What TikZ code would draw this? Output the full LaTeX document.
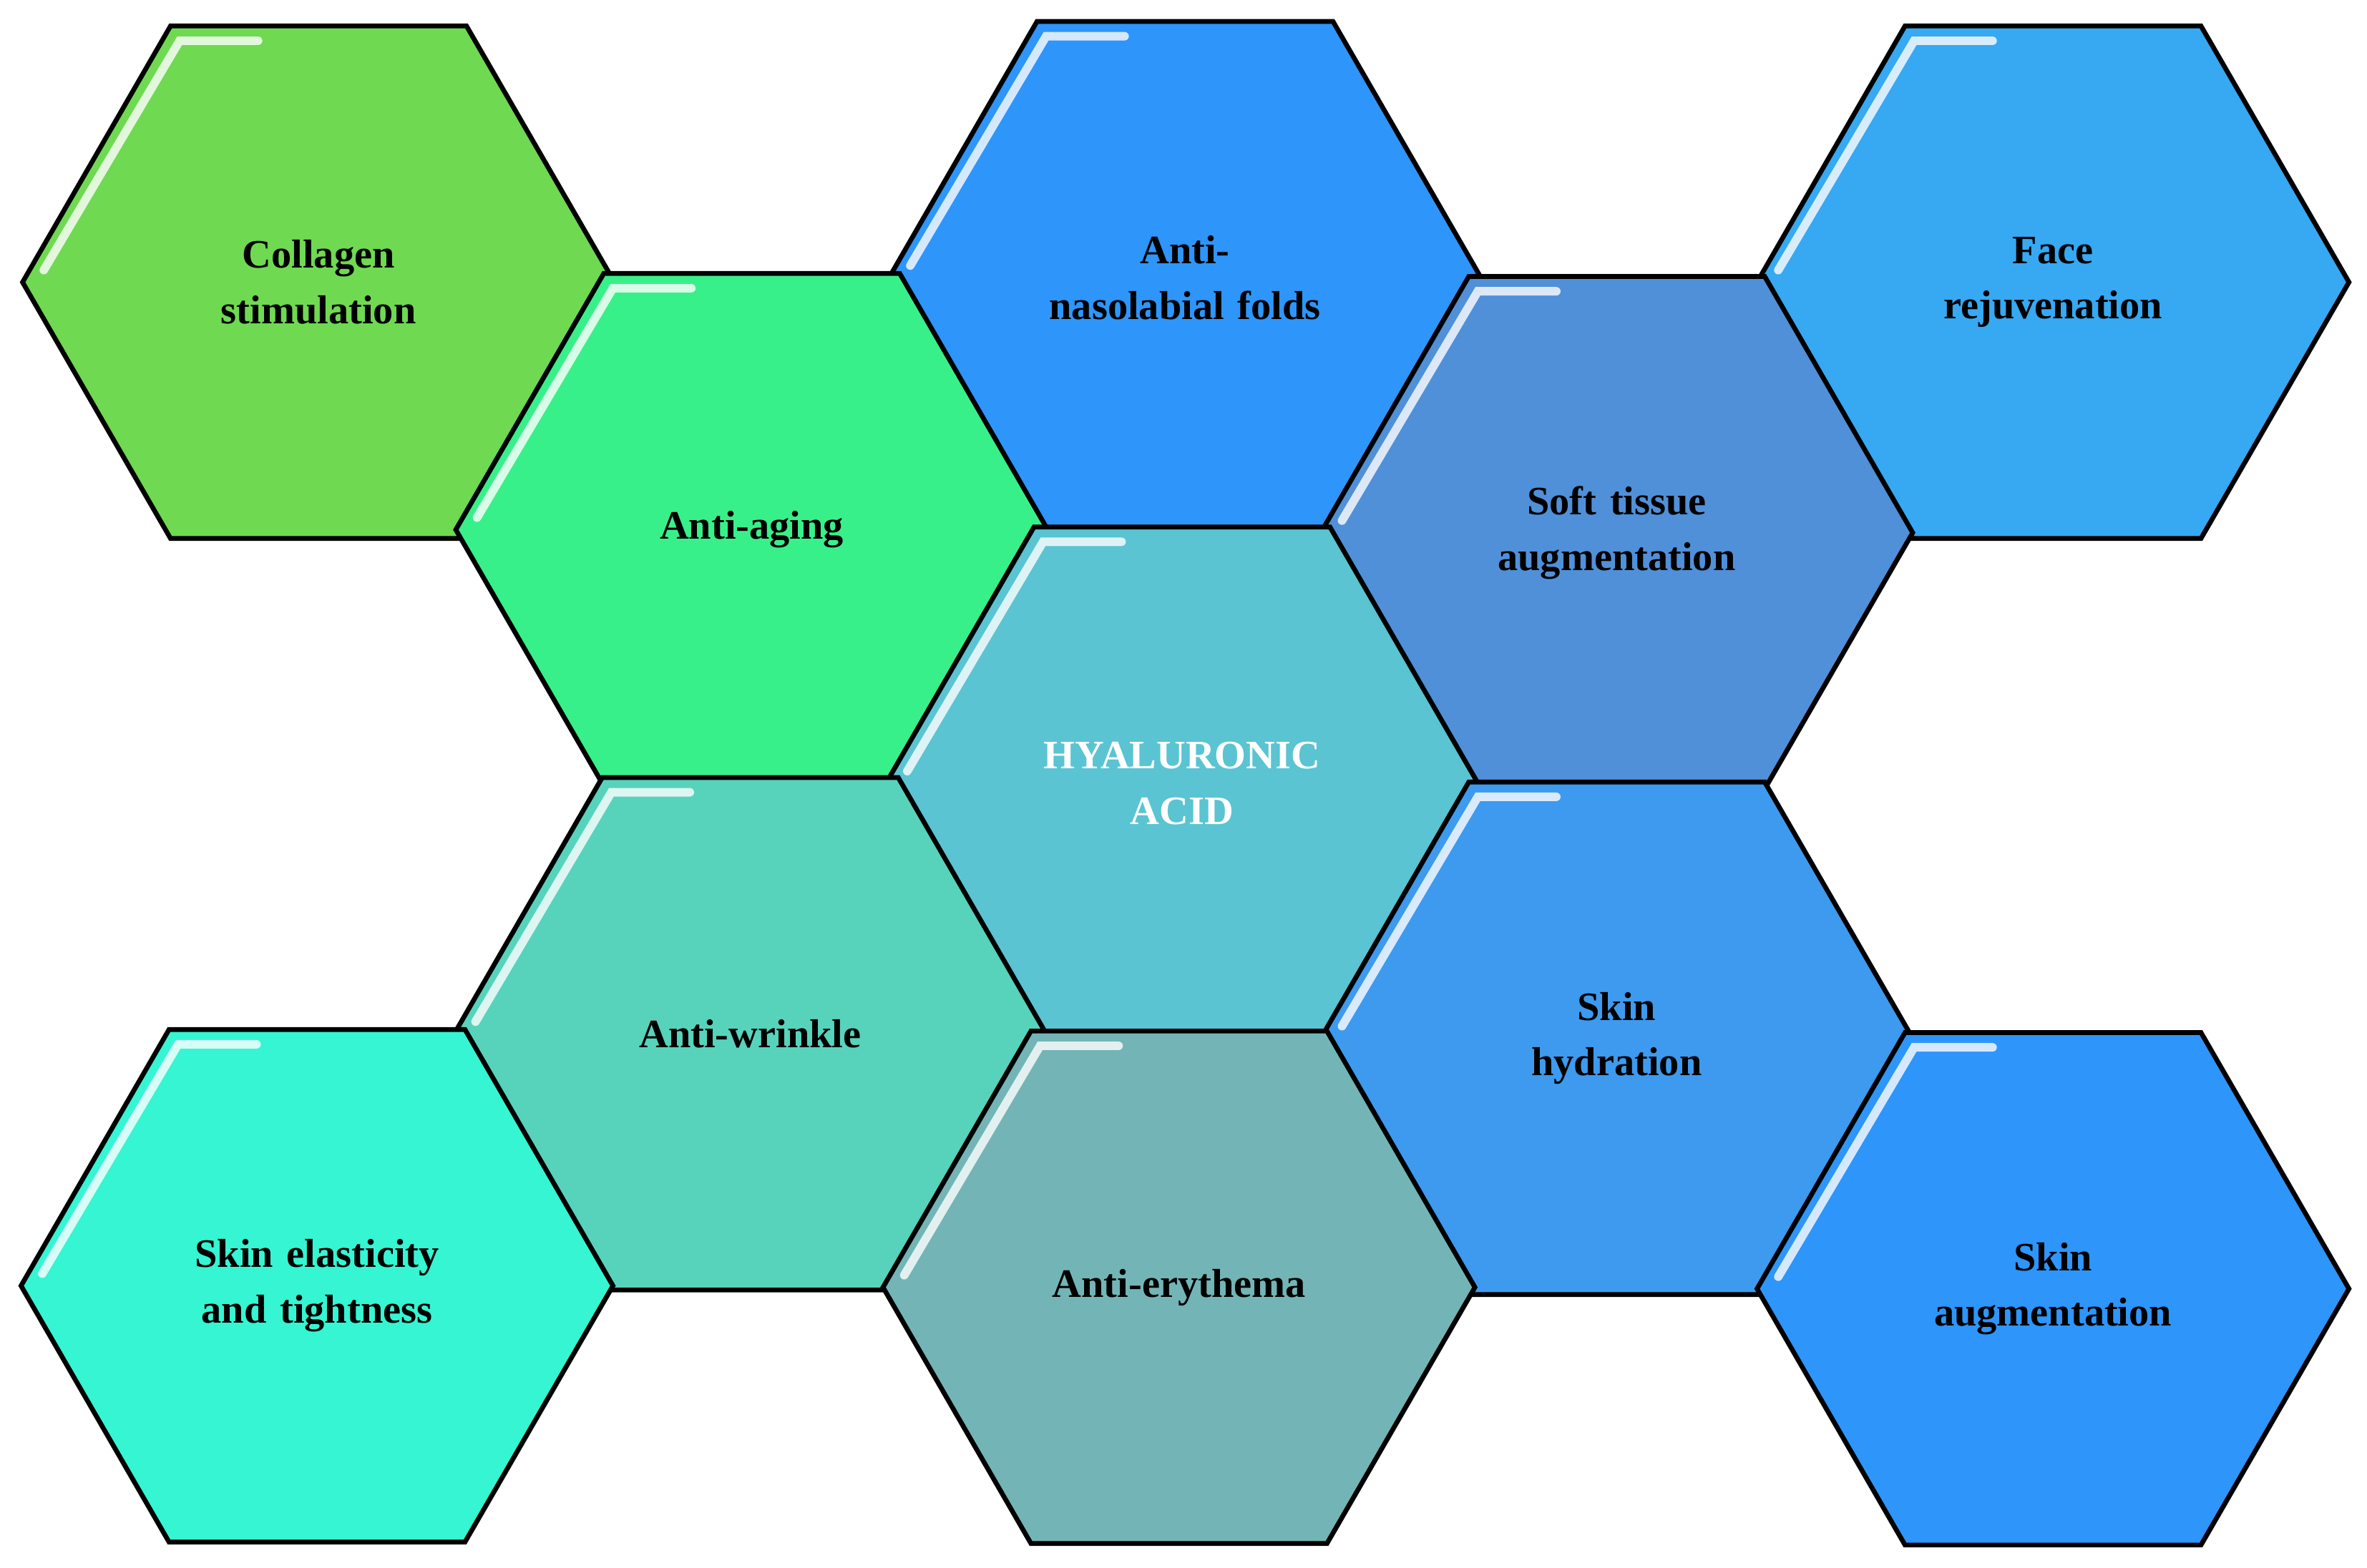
\documentclass[tikz,border=0pt]{standalone}
\usepackage{fontspec}
\setmainfont{Liberation Serif}
\usetikzlibrary{shapes.geometric,calc}
\definecolor{cCollagen}{HTML}{6FD952}
\definecolor{cAging}{HTML}{38F089}
\definecolor{cNaso}{HTML}{2E95FA}
\definecolor{cFace}{HTML}{37A8F2}
\definecolor{cSoft}{HTML}{5090D8}
\definecolor{cHyal}{HTML}{5AC4D2}
\definecolor{cWrinkle}{HTML}{57D3BC}
\definecolor{cHydra}{HTML}{3D9AEE}
\definecolor{cElast}{HTML}{35F5D2}
\definecolor{cEryth}{HTML}{73B5B6}
\definecolor{cAugm}{HTML}{2E95FA}
\tikzset{
  hexa/.style={regular polygon,regular polygon sides=6,draw=black,line width=0.9pt,
    minimum size=3.82cm,inner sep=0pt,align=center,
    font=\fontsize{7.6}{10.5}\selectfont\bfseries,text width=2.4cm},
  gloss/.style={white,line width=1.6pt,opacity=0.8,line cap=round}
}
% hexagon with gloss on the upper-left edge
\newcommand{\hexcell}[5]{%
  \node[hexa,fill=#4] (#1) at (#2,#3) {#5};
  \draw[gloss] ($(#1.center)+(-182,-8)$) -- ($(#1.center)+(-92,-160)$) -- ($(#1.center)+(-40,-160)$);
}
\begin{document}
\begin{tikzpicture}[x=0.01cm,y=-0.01cm]
  \useasboundingbox (0,0) rectangle (1568,1039);
  \hexcell{collagen}{211}{187}{cCollagen}{Collagen\\stimulation}
  \hexcell{naso}{785}{184}{cNaso}{Anti-\\nasolabial folds}
  \hexcell{face}{1360}{187}{cFace}{Face\\rejuvenation}
  \hexcell{aging}{498}{351}{cAging}{Anti-aging}
  \hexcell{soft}{1071}{353}{cSoft}{Soft tissue\\augmentation}
  \hexcell{hyal}{783}{519}{cHyal}{\textcolor{white}{HYALURONIC}\\\textcolor{white}{ACID}}
  \hexcell{wrinkle}{497}{685}{cWrinkle}{Anti-wrinkle}
  \hexcell{hydra}{1071}{688}{cHydra}{Skin\\hydration}
  \hexcell{elast}{210}{852}{cElast}{Skin elasticity\\and tightness}
  \hexcell{eryth}{781}{853}{cEryth}{Anti-erythema}
  \hexcell{augm}{1360}{854}{cAugm}{Skin\\augmentation}
\end{tikzpicture}
\end{document}
